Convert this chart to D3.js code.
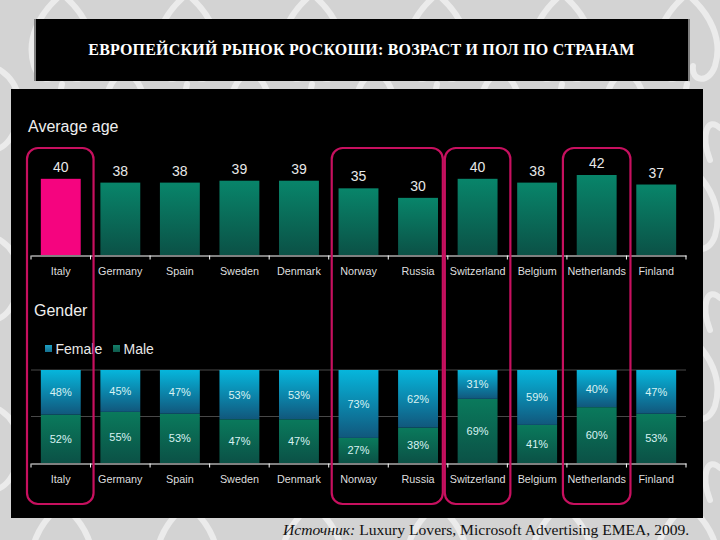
<!DOCTYPE html>
<html>
<head>
<meta charset="utf-8">
<script src="https://cdn.jsdelivr.net/npm/d3@7"></script>
<style>
  html, body { margin: 0; padding: 0; background: #d4d4d4; }
  svg { display: block; }
  text { font-family: "Liberation Sans", sans-serif; }
</style>
</head>
<body>
<svg id="chart" width="720" height="540"></svg>
<script>
const countries = ['Italy', 'Germany', 'Spain', 'Sweden', 'Denmark', 'Norway', 'Russia', 'Switzerland', 'Belgium', 'Netherlands', 'Finland'];
const avgAge = [40, 38, 38, 39, 39, 35, 30, 40, 38, 42, 37];
const female = [48, 45, 47, 53, 53, 73, 62, 31, 59, 40, 47];
const male = [52, 55, 53, 47, 47, 27, 38, 69, 41, 60, 53];
const highlighted = [['Italy', 'Italy', -4, 3], ['Norway', 'Russia', 3, -5], ['Switzerland', 'Switzerland', -3, 3], ['Netherlands', 'Netherlands', -4, 4]];

const svg = d3.select('#chart');
const defs = svg.append('defs');

const gradient = (id, top, bottom) => {
  const g = defs.append('linearGradient').attr('id', id).attr('x1', 0).attr('y1', 0).attr('x2', 0).attr('y2', 1);
  g.append('stop').attr('offset', '0%').attr('stop-color', top);
  g.append('stop').attr('offset', '100%').attr('stop-color', bottom);
};
gradient('ageGreen', '#08856a', '#0b5146');
gradient('genderBlue', '#06b6dc', '#11577c');
gradient('genderGreen', '#0a7a5c', '#0b5146');
gradient('legendBlue', '#1da0c4', '#16708f');
gradient('legendGreen', '#14806a', '#0f5a4c');

// damask-ish wallpaper behind everything
const tile = defs.append('pattern').attr('id', 'damask').attr('patternUnits', 'userSpaceOnUse')
  .attr('width', 125).attr('height', 170);
tile.append('rect').attr('width', 125).attr('height', 170).attr('fill', '#d3d3d3');
const curls = [
  'M62 -6C38 14 26 40 34 66C40 84 58 82 56 66',
  'M62 -6C86 14 98 40 90 66C84 84 66 82 68 66',
  'M62 84C56 108 58 140 62 176',
  'M0 70C22 84 26 116 12 136C6 146 -2 150 -8 150',
  'M125 70C103 84 99 116 113 136C119 146 127 150 133 150',
  'M30 128C42 116 50 134 40 160',
  'M95 128C83 116 75 134 85 160'
];
tile.selectAll('path').data(curls).join('path')
  .attr('d', d => d)
  .attr('fill', 'none')
  .attr('stroke', '#ebebeb')
  .attr('stroke-width', 6)
  .attr('stroke-linecap', 'round');
svg.append('rect').attr('width', 720).attr('height', 540).attr('fill', 'url(#damask)');

// title box
svg.append('rect').attr('x', 34).attr('y', 19).attr('width', 656).attr('height', 62).attr('fill', '#000');
svg.selectAll('line.edge').data([35, 689]).join('line')
  .attr('class', 'edge')
  .attr('x1', d => d).attr('x2', d => d).attr('y1', 19).attr('y2', 81)
  .attr('stroke', '#fff').attr('stroke-width', 1);
svg.append('text')
  .attr('x', 361.5).attr('y', 55)
  .attr('text-anchor', 'middle')
  .attr('fill', '#fff')
  .style('font-family', '"Liberation Serif", serif')
  .style('font-size', '16px')
  .style('font-weight', 'bold')
  .style('letter-spacing', '0.2px')
  .text('ЕВРОПЕЙСКИЙ РЫНОК РОСКОШИ: ВОЗРАСТ И ПОЛ ПО СТРАНАМ');

// black panel
svg.append('rect').attr('x', 11).attr('y', 89).attr('width', 692).attr('height', 429).attr('fill', '#000');

const x = d3.scaleBand().domain(countries).range([31, 686]).paddingInner(0.33).paddingOuter(0.165);
const yAge = d3.scaleLinear().domain([0, 42]).range([255, 175]);
const yGender = d3.scaleLinear().domain([0, 100]).range([463, 370]);

const drawAxis = (y0) => {
  const g = svg.append('g').attr('transform', `translate(0,${y0})`)
    .call(d3.axisBottom(x).tickSize(0).tickPadding(12));
  g.select('.domain').attr('stroke', '#fff').attr('stroke-width', 1.2);
  g.selectAll('text').attr('fill', '#dedede').style('font-size', '10.8px').style('font-family', '"Liberation Sans", sans-serif');
  // ticks sit on the band edges, not the band centres
  g.selectAll('line.edge').data(d3.range(countries.length + 1)).join('line')
    .attr('class', 'edge')
    .attr('x1', i => x.range()[0] + i * x.step()).attr('x2', i => x.range()[0] + i * x.step())
    .attr('y1', 0).attr('y2', 4)
    .attr('stroke', '#fff');
};

// average age
svg.append('text').attr('x', 28).attr('y', 132).attr('fill', '#eee').style('font-size', '16px').text('Average age');

svg.selectAll('rect.age').data(countries).join('rect')
  .attr('class', 'age')
  .attr('x', d => x(d)).attr('width', x.bandwidth())
  .attr('y', (d, i) => yAge(avgAge[i]))
  .attr('height', (d, i) => yAge(0) - yAge(avgAge[i]))
  .attr('fill', d => d === 'Italy' ? '#f5047f' : 'url(#ageGreen)');

svg.selectAll('text.age').data(countries).join('text')
  .attr('class', 'age')
  .attr('x', d => x(d) + x.bandwidth() / 2)
  .attr('y', (d, i) => yAge(avgAge[i]) - 7)
  .attr('text-anchor', 'middle')
  .attr('fill', '#e8e8e8')
  .style('font-size', '14px')
  .text((d, i) => avgAge[i]);

drawAxis(255.5);

// gender
svg.append('text').attr('x', 34).attr('y', 316).attr('fill', '#eee').style('font-size', '16px').text('Gender');

const legendNames = ['Female', 'Male'];
const legendFills = ['url(#legendBlue)', 'url(#legendGreen)'];
const legendX = [45, 113];
svg.selectAll('rect.legend').data(legendNames).join('rect')
  .attr('class', 'legend')
  .attr('x', (d, i) => legendX[i]).attr('y', 345).attr('width', 7).attr('height', 7)
  .attr('fill', (d, i) => legendFills[i]);
svg.selectAll('text.legend').data(legendNames).join('text')
  .attr('class', 'legend')
  .attr('x', (d, i) => legendX[i] + 10.5).attr('y', 354)
  .attr('fill', '#e8e8e8')
  .style('font-size', '14px')
  .text(d => d);

svg.selectAll('line.grid').data([50, 100]).join('line')
  .attr('class', 'grid')
  .attr('x1', 31).attr('x2', 686)
  .attr('y1', d => yGender(d)).attr('y2', d => yGender(d))
  .attr('stroke', '#5a5a5a').attr('stroke-width', 0.8);

const stacked = d3.stack().keys(['male', 'female'])(countries.map((c, i) => ({ country: c, male: male[i], female: female[i] })));
const stackFills = { male: 'url(#genderGreen)', female: 'url(#genderBlue)' };

svg.selectAll('g.layer').data(stacked).join('g')
  .attr('class', 'layer')
  .each(function (layer) {
    const g = d3.select(this);
    g.selectAll('rect').data(layer).join('rect')
      .attr('x', d => x(d.data.country)).attr('width', x.bandwidth())
      .attr('y', d => yGender(d[1]))
      .attr('height', d => yGender(d[0]) - yGender(d[1]))
      .attr('fill', stackFills[layer.key]);
    g.selectAll('text').data(layer).join('text')
      .attr('x', d => x(d.data.country) + x.bandwidth() / 2)
      .attr('y', d => yGender((d[0] + d[1]) / 2) + 4)
      .attr('text-anchor', 'middle')
      .attr('fill', '#d8f2f2')
      .style('font-size', '11px')
      .text(d => `${d.data[layer.key]}%`);
  });

drawAxis(463.5);

// pink outlines around the highlighted countries
svg.selectAll('rect.mark').data(highlighted).join('rect')
  .attr('class', 'mark')
  .attr('x', d => x(d[0]) - (x.step() - x.bandwidth()) / 2 + d[2])
  .attr('width', d => x(d[1]) - x(d[0]) + x.step() - d[2] + d[3])
  .attr('y', 148).attr('height', 356)
  .attr('rx', 11).attr('ry', 11)
  .attr('fill', 'none')
  .attr('stroke', '#c7105f')
  .attr('stroke-width', 2.2);

// source line
const source = svg.append('text')
  .attr('x', 283).attr('y', 535)
  .attr('fill', '#111')
  .style('font-family', '"Liberation Serif", serif')
  .style('font-size', '15.6px');
source.append('tspan').style('font-style', 'italic').text('Источник: ');
source.append('tspan').text('Luxury Lovers, Microsoft Advertising EMEA, 2009.');
</script>
</body>
</html>
